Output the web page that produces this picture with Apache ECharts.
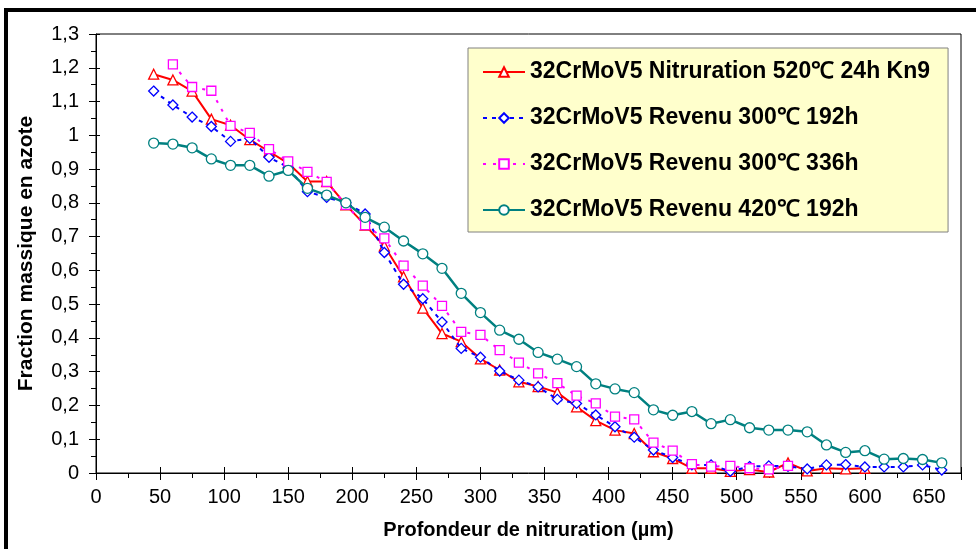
<!DOCTYPE html>
<html>
<head>
<meta charset="utf-8">
<script src="https://cdn.jsdelivr.net/npm/echarts@6/dist/echarts.min.js"></script>
<style>html,body{margin:0;padding:0;background:#fff;}#c{width:976px;height:549px;}</style>
</head>
<body>
<div id="c"></div>
<script>
const depth = [45,60,75,90,105,120,135,150,165,180,195,210,225,240,255,270,285,300,315,330,345,360,375,390,405,420,435,450,465,480,495,510,525,540,555,570,585,600,615,630,645,660];
const seriesNames = ['32CrMoV5 Nitruration 520℃ 24h Kn9','32CrMoV5 Revenu 300℃ 192h','32CrMoV5 Revenu 300℃ 336h','32CrMoV5 Revenu 420℃ 192h'];
const nitruration520 = [1.181,1.164,1.131,1.048,1.03,0.987,0.952,0.917,0.863,0.863,0.794,0.734,0.672,0.581,0.488,0.413,0.389,0.338,0.305,0.27,0.256,0.238,0.196,0.155,0.127,0.117,0.063,0.043,0.014,0.014,0.005,0.01,0.003,0.03,0.006,0.014,0.012,0.014,null,null,null,null];
const revenu300_192 = [1.131,1.09,1.054,1.026,0.982,0.991,0.935,0.905,0.833,0.816,0.80,0.767,0.653,0.559,0.516,0.447,0.369,0.343,0.302,0.275,0.255,0.218,0.206,0.172,0.137,0.106,0.068,0.046,0.024,0.024,0.005,0.019,0.021,0.02,0.012,0.024,0.025,0.018,0.018,0.018,0.024,0.009];
const revenu300_336 = [null,1.21,1.143,1.132,1.028,1.007,0.959,0.923,0.892,0.862,0.794,0.734,0.695,0.614,0.555,0.495,0.418,0.409,0.364,0.327,0.295,0.266,0.229,0.206,0.167,0.159,0.09,0.066,0.026,0.019,0.021,0.014,0.011,0.021,null,null,null,null,null,null,null,null];
const revenu420_192 = [0.977,0.974,0.963,0.930,0.911,0.911,0.879,0.896,0.843,0.823,0.800,0.757,0.728,0.687,0.649,0.606,0.532,0.475,0.423,0.396,0.357,0.337,0.315,0.264,0.249,0.238,0.187,0.171,0.182,0.146,0.158,0.134,0.127,0.127,0.122,0.083,0.061,0.066,0.041,0.043,0.040,0.030];
const xTickLabels = ['0','50','100','150','200','250','300','350','400','450','500','550','600','650'];
const yTickLabels = ['0','0,1','0,2','0,3','0,4','0,5','0,6','0,7','0,8','0,9','1','1,1','1,2','1,3'];

function pairs(vals){ const out=[]; vals.forEach((v,i)=>{ if(v!==null) out.push([depth[i],v]); }); return out; }

const FONT = 'Liberation Sans, Arial, sans-serif';
const chart = echarts.init(document.getElementById('c'), null, {renderer:'canvas'});

const styles = [
  {color:'#FF0000', symbol:'triangle', size:10, type:'solid', width:2},
  {color:'#0000FF', symbol:'diamond', size:10, type:[4,5], width:2},
  {color:'#FF00FF', symbol:'rect', size:9, type:[3,7], width:2},
  {color:'#008080', symbol:'circle', size:10, type:'solid', width:2.5}
];
const datas = [nitruration520, revenu300_192, revenu300_336, revenu420_192];

const series = datas.map((d,i)=>({
  name: seriesNames[i],
  type:'line',
  data: pairs(d),
  symbol: styles[i].symbol,
  symbolSize: styles[i].size,
  showAllSymbol: true,
  lineStyle:{color:styles[i].color, width:styles[i].width, type:styles[i].type},
  itemStyle:{color:'#ffffff', borderColor:styles[i].color, borderWidth:1.3},
  emphasis:{disabled:true},
  animation:false,
  z: 2+i
}));

chart.setOption({
  animation:false,
  backgroundColor:'#ffffff',
  textStyle:{fontFamily:FONT},
  grid:{left:96, top:34, right:15, bottom:76, show:true, borderColor:'#000', borderWidth:1, backgroundColor:'transparent'},
  legend:{
    left:468, top:48, orient:'vertical',
    backgroundColor:'#FFFFCC', borderColor:'#808080', borderWidth:1,
    padding:[12,18,10,14],
    itemWidth:42, itemHeight:12, itemGap:22,
    textStyle:{fontFamily:FONT, fontWeight:'bold', fontSize:23, color:'#000', lineHeight:24},
    data: seriesNames
  },
  xAxis:[{
    type:'value', min:0, max:675, interval:50,
    name:'Profondeur de nitruration (µm)', nameLocation:'middle', nameGap:47,
    nameTextStyle:{fontFamily:FONT, fontWeight:'bold', fontSize:20, color:'#000'},
    axisLine:{show:true, onZero:false, lineStyle:{color:'#000', width:1}},
    axisTick:{show:true, inside:false, length:7, lineStyle:{color:'#000'}},
    minorTick:{show:true, splitNumber:2, length:5, lineStyle:{color:'#000'}},
    splitLine:{show:false}, minorSplitLine:{show:false},
    axisLabel:{fontFamily:FONT, fontSize:20, color:'#000', margin:14, showMinLabel:true, showMaxLabel:true,
      formatter:v=>{ const k=Math.round(v/50); return (Math.abs(v-k*50)<1e-6 && k<xTickLabels.length)? xTickLabels[k] : ''; }}
  },{
    type:'value', min:0, max:675, interval:50, position:'bottom',
    axisLine:{show:false}, axisLabel:{show:false}, splitLine:{show:false},
    axisTick:{show:true, inside:true, length:6, lineStyle:{color:'#000'}}
  }],
  yAxis:[{
    type:'value', min:0, max:1.3, interval:0.1,
    name:'Fraction massique en azote', nameLocation:'middle', nameGap:59,
    nameTextStyle:{fontFamily:FONT, fontWeight:'bold', fontSize:21, color:'#000'},
    axisLine:{show:true, onZero:false, lineStyle:{color:'#000', width:1}},
    axisTick:{show:true, inside:false, length:7, lineStyle:{color:'#000'}},
    minorTick:{show:true, splitNumber:2, length:5, lineStyle:{color:'#000'}},
    splitLine:{show:false}, minorSplitLine:{show:false},
    axisLabel:{fontFamily:FONT, fontSize:20, color:'#000', margin:17, showMinLabel:true, showMaxLabel:true,
      formatter:v=>{ const k=Math.round(v*10); return yTickLabels[k] !== undefined ? yTickLabels[k] : ''; }}
  },{
    type:'value', min:0, max:1.3, interval:0.1, position:'left', offset:0,
    axisLine:{show:false}, axisLabel:{show:false}, splitLine:{show:false},
    axisTick:{show:true, inside:true, length:4, lineStyle:{color:'#000'}}
  }],
  graphic:[
    {type:'rect', shape:{x:4, y:8, width:972, height:4}, style:{fill:'#000'}, silent:true},
    {type:'rect', shape:{x:4, y:8, width:4, height:541}, style:{fill:'#000'}, silent:true}
  ],
  series: series
});
</script>
</body>
</html>
